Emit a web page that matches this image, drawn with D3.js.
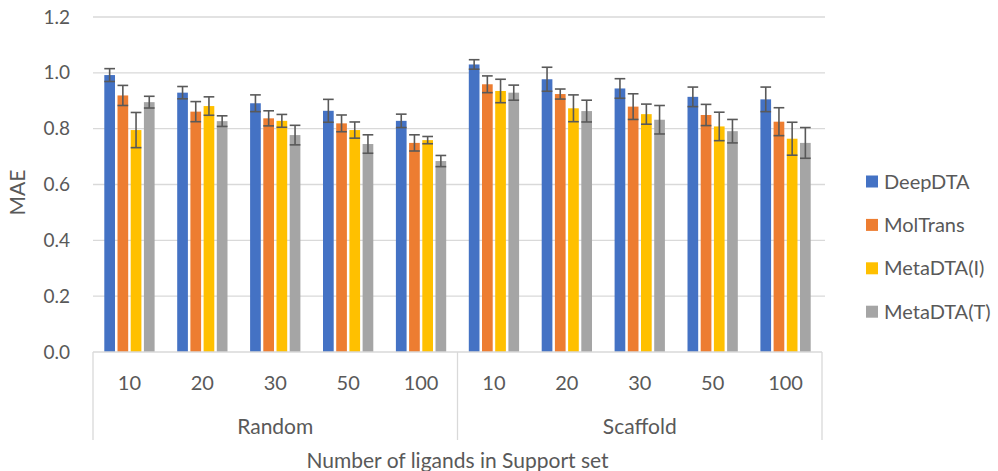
<!DOCTYPE html>
<html><head><meta charset="utf-8">
<script src="https://cdn.jsdelivr.net/npm/d3@7"></script>
<style>body{margin:0;background:#fff;} text{font-family:Lato,"Open Sans",sans-serif;fill:#595959;}</style>
</head><body><svg id="c" width="998" height="471"></svg>
<script>
const groups = ["Random", "Scaffold"];
const supportSizes = ["10", "20", "30", "50", "100"];
const seriesNames = ["DeepDTA", "MolTrans", "MetaDTA(I)", "MetaDTA(T)"];
const colors = ["#4472C4", "#ED7D31", "#FFC000", "#A5A5A5"];
// values in order: Random 10..100, Scaffold 10..100
const deepDTA   = [0.992, 0.929, 0.891, 0.864, 0.828, 1.030, 0.977, 0.944, 0.914, 0.905];
const molTrans  = [0.919, 0.861, 0.837, 0.819, 0.749, 0.959, 0.924, 0.879, 0.849, 0.825];
const metaDTAI  = [0.795, 0.881, 0.828, 0.795, 0.759, 0.935, 0.873, 0.852, 0.808, 0.764];
const metaDTAT  = [0.895, 0.827, 0.777, 0.745, 0.684, 0.929, 0.863, 0.832, 0.791, 0.749];
const deepDTAErr  = [0.023, 0.022, 0.030, 0.041, 0.024, 0.017, 0.043, 0.035, 0.035, 0.044];
const molTransErr = [0.036, 0.036, 0.027, 0.030, 0.029, 0.030, 0.018, 0.046, 0.038, 0.050];
const metaDTAIErr = [0.063, 0.033, 0.023, 0.029, 0.013, 0.042, 0.048, 0.036, 0.051, 0.059];
const metaDTATErr = [0.021, 0.019, 0.035, 0.033, 0.020, 0.027, 0.039, 0.051, 0.042, 0.055];
const yTicks = [0, 0.2, 0.4, 0.6, 0.8, 1.0, 1.2];

const values = [deepDTA, molTrans, metaDTAI, metaDTAT];
const errs = [deepDTAErr, molTransErr, metaDTAIErr, metaDTATErr];
const cats = [];
groups.forEach(g => supportSizes.forEach(s => cats.push(g + "|" + s)));

const svg = d3.select("#c");
const L = 93, R = 822, T = 17, B = 352;
const y = d3.scaleLinear().domain([0, 1.2]).range([B, T]);
const x = d3.scaleBand().domain(cats).range([L, R]).padding(0);
const groupW = 50.3;
const xi = d3.scaleBand().domain(seriesNames).range([0, groupW]).paddingInner(0.19).paddingOuter(0);
const off = (x.bandwidth() - groupW) / 2;

// gridlines
svg.append("g").selectAll("line").data(yTicks.slice(1)).join("line")
  .attr("x1", L).attr("x2", R + 3).attr("y1", d => y(d)).attr("y2", d => y(d))
  .attr("stroke", "#d9d9d9").attr("stroke-width", 1.3);

// y tick labels
svg.append("g").selectAll("text").data(yTicks).join("text")
  .attr("x", 70).attr("y", d => y(d)).attr("dy", "0.35em").attr("text-anchor", "end")
  .attr("font-size", 19).text(d => d3.format(".1f")(d));

// y title
svg.append("text").attr("transform", `translate(25,${(T + B) / 2 + 8}) rotate(-90)`)
  .attr("text-anchor", "middle").attr("font-size", 21).text("MAE");

// bars
seriesNames.forEach((s, si) => {
  const g = svg.append("g");
  g.selectAll("rect").data(cats).join("rect")
    .attr("x", c => x(c) + off + xi(s)).attr("width", xi.bandwidth())
    .attr("y", (c, i) => y(values[si][i])).attr("height", (c, i) => y(0) - y(values[si][i]))
    .attr("fill", colors[si]);
});
// error bars
seriesNames.forEach((s, si) => {
  const g = svg.append("g").attr("stroke", "#595959").attr("stroke-width", 1.6).attr("fill", "none");
  cats.forEach((c, i) => {
    const cx = x(c) + off + xi(s) + xi.bandwidth() / 2;
    const hi = y(values[si][i] + errs[si][i]), lo = y(values[si][i] - errs[si][i]);
    const hw = xi.bandwidth() / 2;
    g.append("line").attr("x1", cx).attr("x2", cx).attr("y1", hi).attr("y2", lo);
    g.append("line").attr("x1", cx - hw).attr("x2", cx + hw).attr("y1", hi).attr("y2", hi);
    g.append("line").attr("x1", cx - hw).attr("x2", cx + hw).attr("y1", lo).attr("y2", lo);
  });
});

// category axis
const ax = svg.append("g").attr("stroke", "#d9d9d9").attr("stroke-width", 1.3);
ax.append("line").attr("x1", L).attr("x2", R).attr("y1", B).attr("y2", B);
const seps = [L, x(groups[1] + "|" + supportSizes[0]), R];
seps.forEach(sx => ax.append("line").attr("x1", sx).attr("x2", sx).attr("y1", B).attr("y2", 440));

svg.append("g").selectAll("text").data(cats).join("text")
  .attr("x", c => x(c) + x.bandwidth() / 2).attr("y", 383).attr("dy", "0.35em")
  .attr("text-anchor", "middle").attr("font-size", 20).text(c => c.split("|")[1]);

svg.append("g").selectAll("text").data(groups).join("text")
  .attr("x", g => (x(g + "|" + supportSizes[0]) + x(g + "|" + supportSizes[4]) + x.bandwidth()) / 2)
  .attr("y", 427).attr("dy", "0.35em").attr("text-anchor", "middle").attr("font-size", 21).text(g => g);

svg.append("text").attr("x", (L + R) / 2).attr("y", 461).attr("dy", "0.35em")
  .attr("text-anchor", "middle").attr("font-size", 21).text("Number of ligands in Support set");

// legend
const lg = svg.append("g");
seriesNames.forEach((s, i) => {
  const cy = 181.5 + i * 43.4;
  lg.append("rect").attr("x", 866).attr("y", cy - 6).attr("width", 12).attr("height", 12).attr("fill", colors[i]);
  lg.append("text").attr("x", 884).attr("y", cy).attr("dy", "0.35em").attr("font-size", 20).text(s);
});
</script></body></html>
